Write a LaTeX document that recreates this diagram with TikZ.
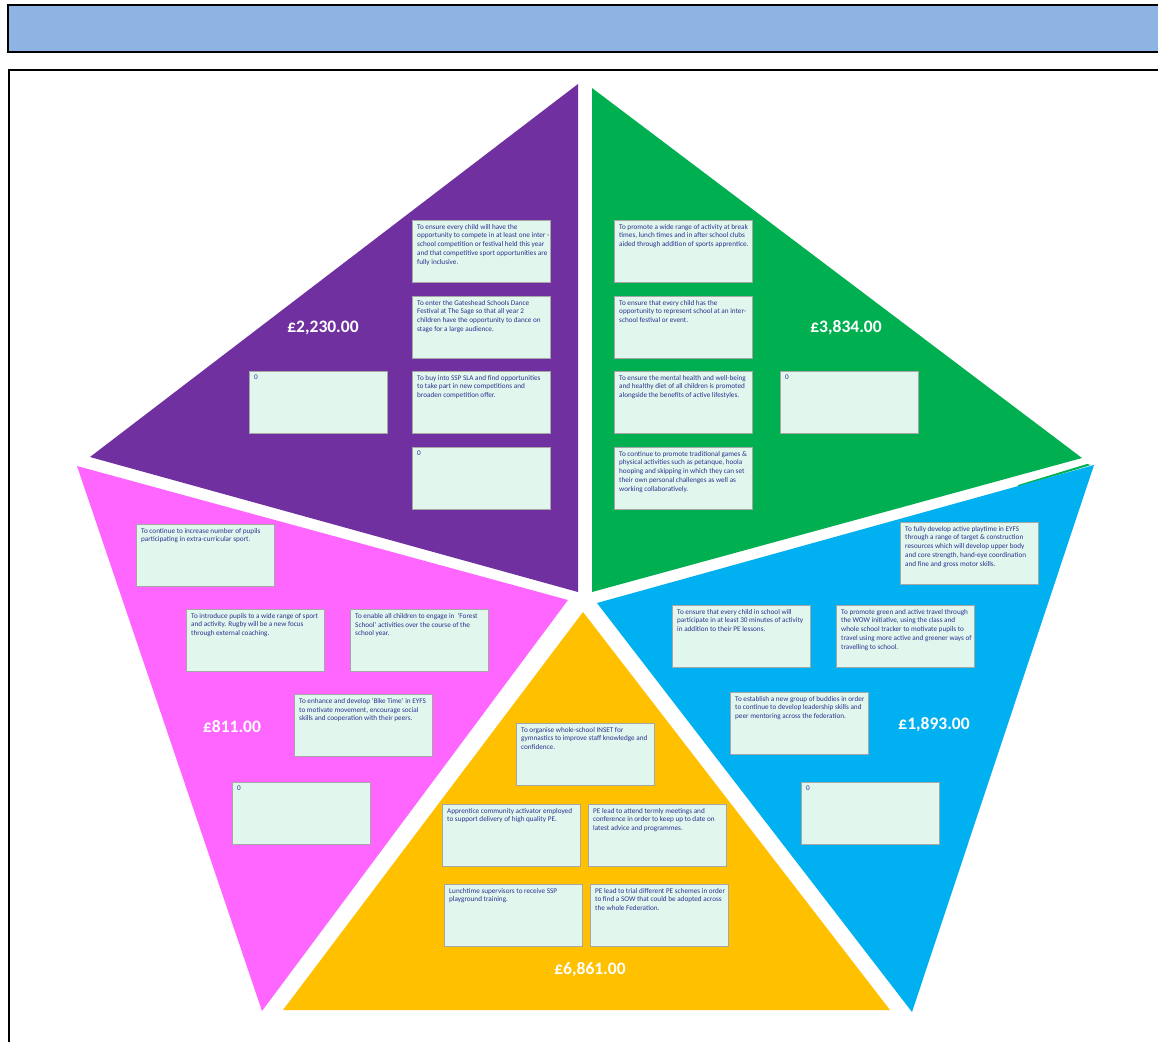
\documentclass[tikz,border=0pt]{standalone}
\usepackage{fontspec}
\setmainfont{Carlito}
\definecolor{hdr}{HTML}{8EB4E3}
\definecolor{cpurple}{HTML}{7030A0}
\definecolor{cgreen}{HTML}{00B050}
\definecolor{cpink}{HTML}{FF66FF}
\definecolor{cblue}{HTML}{00B0F0}
\definecolor{cyellow}{HTML}{FFC000}
\definecolor{boxfill}{HTML}{E1F6EC}
\definecolor{boxline}{HTML}{A6A6A6}
\definecolor{navy}{HTML}{2E3192}
\tikzset{
  tb/.style={anchor=north west, draw=boxline, line width=1pt, fill=boxfill,
    minimum width=138pt, minimum height=62pt, inner sep=0pt},
  tt/.style={anchor=north west, inner sep=0pt, xshift=5pt, yshift=-4pt, align=left,
    text=navy, font=\fontsize{7.2}{8.7}\selectfont},
  amt/.style={text=white, font=\fontsize{17.5}{20}\selectfont\bfseries, inner sep=0pt}
}
\newcommand\tbx[4]{%
  \node[tb] (#1) at (#2,#3) {};
  \node[tt] (#1t) at (#1.north west) {#4};}
\begin{document}
\begin{tikzpicture}[x=1pt,y=-1pt]
\useasboundingbox (0,0) rectangle (1158,1041);
\clip (0,0) rectangle (1158,1041);
\fill[white] (0,0) rectangle (1158,1041);
% header and frame
\draw[fill=hdr, line width=2pt] (8,5) rectangle (1170,52);
\draw[line width=2pt] (9,1050) -- (9,70) -- (1170,70);
% segments
\fill[cpurple] (578,84) -- (578,592) -- (90,457) -- cycle;
\fill[cgreen] (592,88) -- (1082,458) -- (592,592) -- cycle;
\fill[cgreen] (1018,485) -- (1087,464) -- (1091,465) -- (1018,487) -- cycle;
\fill[cpink] (77,466) -- (568,600) -- (262,1011) -- cycle;
\fill[cblue] (597,603) -- (1094,465) -- (912,1012) -- cycle;
\fill[cyellow] (583,612) -- (890,1010) -- (283,1010) -- cycle;
% purple
\tbx{b1}{412}{220}{To ensure every child will have the\\opportunity to compete in at least one inter -\\school competition or festival held this year\\and that competitive sport opportunities are\\fully inclusive.}
\tbx{b2}{412}{296}{To enter the Gateshead Schools Dance\\Festival at The Sage so that all year 2\\children have the opportunity to dance on\\stage for a large audience.}
\tbx{b3}{412}{371}{To buy into SSP SLA and find opportunities\\to take part in new competitions and\\broaden competition offer.}
\tbx{b4}{412}{447}{0}
\tbx{b5}{249}{371}{0}
\node[amt] (apurple) at (323,328) {£2,230.00};
% green
\tbx{g1}{614}{220}{To promote a wide range of activity at break\\times, lunch times and in after school clubs\\aided through addition of sports apprentice.}
\tbx{g2}{614}{296}{To ensure that every child has the\\opportunity to represent school at an inter-\\school festival or event.}
\tbx{g3}{614}{371}{To ensure the mental health and well-being\\and healthy diet of all children is promoted\\alongside the benefits of active lifestyles.}
\tbx{g4}{614}{447}{To continue to promote traditional games \&\\physical activities such as petanque, hoola\\hooping and skipping in which they can set\\their own personal challenges as well as\\working collaboratively.}
\tbx{g5}{780}{371}{0}
\node[amt] (agreen) at (846,328) {£3,834.00};
% pink
\tbx{p1}{136}{524}{To continue to increase number of pupils\\participating in extra-curricular sport.}
\tbx{p2}{186}{609}{To introduce pupils to a wide range of sport\\and activity. Rugby will be a new focus\\through external coaching.}
\tbx{p3}{350}{609}{To enable all children to engage in\ \ ‘Forest\\School’ activities over the course of the\\school year.}
\tbx{p4}{294}{694}{To enhance and develop ‘Bike Time’ in EYFS\\to motivate movement, encourage social\\skills and cooperation with their peers.}
\tbx{p5}{232}{782}{0}
\node[amt] (apink) at (232,727) {£811.00};
% blue
\tbx{l1}{900}{522}{To fully develop active playtime in EYFS\\through a range of target \& construction\\resources which will develop upper body\\and core strength, hand-eye coordination\\and fine and gross motor skills.}
\tbx{l2}{672}{605}{To ensure that every child in school will\\participate in at least 30 minutes of activity\\in addition to their PE lessons.}
\tbx{l3}{836}{605}{To promote green and active travel through\\the WOW initiative, using the class and\\whole school tracker to motivate pupils to\\travel using more active and greener ways of\\travelling to school.}
\tbx{l4}{730}{692}{To establish a new group of buddies in order\\to continue to develop leadership skills and\\peer mentoring across the federation.}
\tbx{l5}{801}{782}{0}
\node[amt] (ablue) at (934,725) {£1,893.00};
% yellow
\tbx{y1}{516}{723}{To organise whole-school INSET for\\gymnastics to improve staff knowledge and\\confidence.}
\tbx{y2}{442}{804}{Apprentice community activator employed\\to support delivery of high quality PE.}
\tbx{y3}{588}{804}{PE lead to attend termly meetings and\\conference in order to keep up to date on\\latest advice and programmes.}
\tbx{y4}{444}{884}{Lunchtime supervisors to receive SSP\\playground training.}
\tbx{y5}{590}{884}{PE lead to trial different PE schemes in order\\to find a SOW that could be adopted across\\the whole Federation.}
\node[amt] (ayellow) at (590,970) {£6,861.00};
\end{tikzpicture}
\end{document}
